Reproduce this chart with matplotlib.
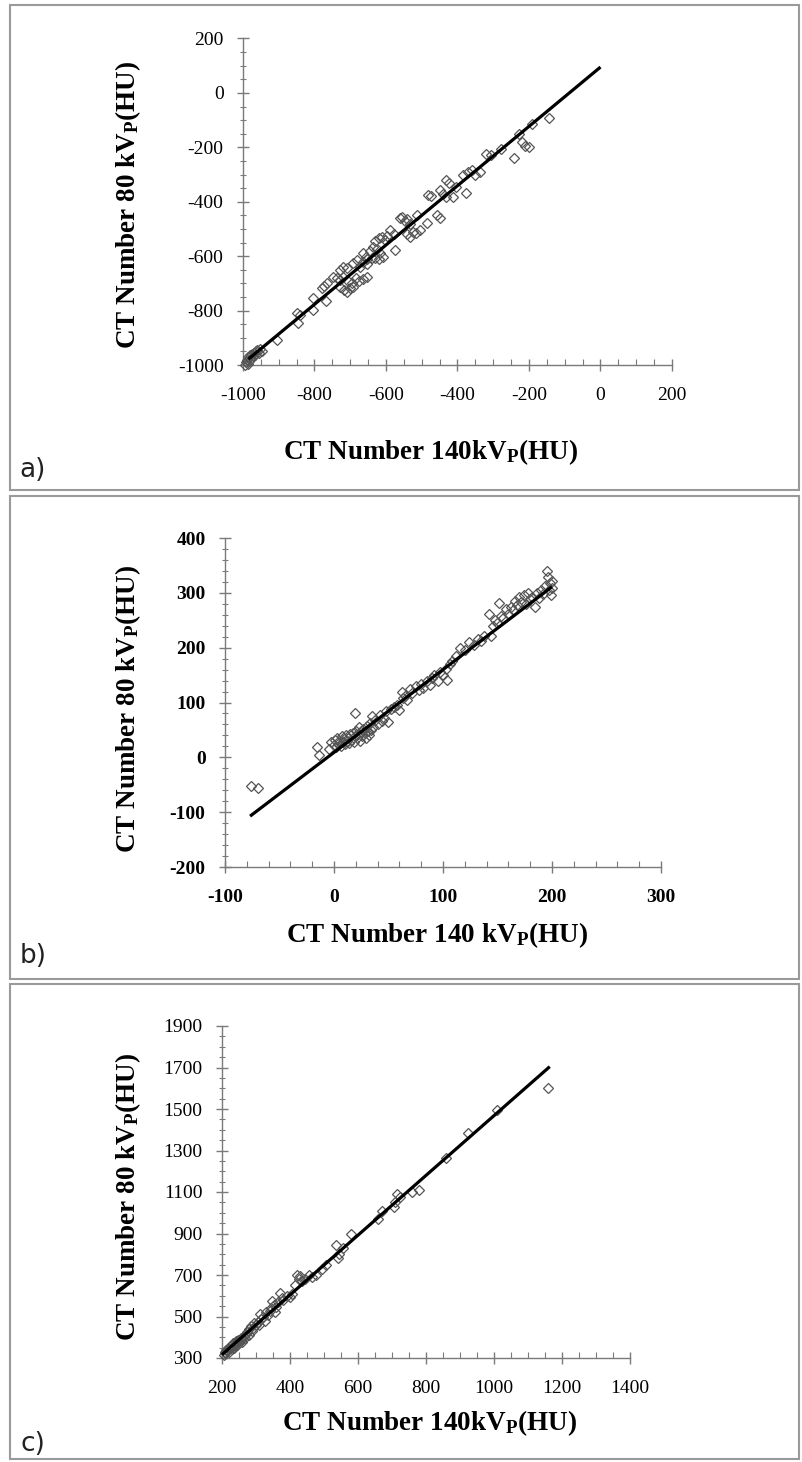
import matplotlib
matplotlib.use('Agg')
import matplotlib.pyplot as plt
from matplotlib.ticker import MultipleLocator, FixedLocator
from matplotlib.patches import Rectangle

plt.rcParams['font.family'] = ['Liberation Serif', 'DejaVu Serif']
plt.rcParams['mathtext.fontset'] = 'custom'
plt.rcParams['mathtext.rm'] = 'Liberation Serif:bold'
plt.rcParams['mathtext.it'] = 'Liberation Serif:bold'
plt.rcParams['mathtext.bf'] = 'Liberation Serif:bold'

# ---------------- data: panel a (lung-like) ----------------
a_x140 = [-995, -992, -990, -987, -985, -982, -980, -977, -975, -972, -970, -966, -963, -960, -956, -952, -948,
          -906, -850, -845, -840, -805, -803,
          -780, -773, -766, -769, -747, -738, -728, -719, -729, -720, -710,
          -729, -718, -710, -700, -692, -705, -695, -685, -675, -665, -654,
          -692, -682, -672, -663, -654, -664, -655, -646, -637, -626, -632, -620, -612, -603, -598,
          -654, -640, -630, -620, -608, -617, -575, -589, -578,
          -561, -555, -548, -540, -533, -542, -533, -524, -515, -505,
          -514, -486, -482, -475, -458, -449, -449, -440, -431, -431, -425,
          -412, -403, -375, -384, -370, -360, -350, -337,
          -321, -305, -279, -243, -229, -220, -212, -200, -193, -143]
a_y80 = [-1000, -990, -980, -995, -972, -985, -965, -978, -960, -968, -955, -962, -950, -945, -955, -940, -948,
         -908, -810, -844, -815, -798, -755,
         -718, -708, -700, -764, -675, -680, -688, -678, -651, -639, -645,
         -712, -725, -730, -718, -712, -690, -700, -680, -692, -685, -675,
         -625, -614, -639, -620, -630, -590, -602, -580, -565, -575, -545, -535, -528, -540, -525,
         -610, -608, -605, -612, -602, -590, -577, -504, -520,
         -460, -455, -470, -465, -480, -520, -528, -510, -515, -504,
         -449, -479, -375, -380, -449, -461, -357, -370, -381, -320, -330,
         -381, -345, -369, -300, -290, -283, -300, -290,
         -224, -230, -206, -240, -150, -180, -195, -200, -115, -91]
a_fit = (1.09, 95.0)          # slope, intercept
a_fit_x = [-985, 0]
a_xticks = [-1000, -800, -600, -400, -200, 0, 200]
a_yticks = [-1000, -800, -600, -400, -200, 0, 200]

# ---------------- data: panel b (soft tissue) ----------------
b_x140 = [-76, -70, -16, -14,
          -5, -3, 0, 1, 2, 3, 4, 5, 6, 7, 8, 9, 10, 11, 12, 13, 14, 15, 16, 17, 18, 19, 19, 20, 21, 22,
          23, 24, 25, 26, 27, 28, 29, 30, 31, 32, 33, 34, 35, 36, 38, 40, 42, 44, 46, 48, 50, 52, 55, 58,
          60, 62, 63, 65, 67, 70, 72, 75, 78, 80, 82, 85, 88, 90, 92, 95, 97, 100, 103, 104, 106, 108,
          112, 116, 120, 124, 128, 132, 135, 138, 142, 144, 146, 148, 150, 151, 153, 155, 158, 160, 162,
          164, 166, 168, 170, 172, 174, 176, 178, 180, 182, 184, 186, 188, 190, 192, 194, 195, 196, 197,
          198, 199, 200, 200]
b_y80 = [-53, -56, 19, 5,
         15, 28, 22, 32, 18, 35, 25, 30, 20, 38, 28, 33, 24, 40, 30, 35, 26, 42, 32, 45, 28, 80, 38, 48, 35, 42,
         55, 30, 46, 38, 52, 44, 36, 58, 48, 40, 62, 50, 75, 56, 68, 60, 78, 66, 72, 84, 64, 88, 92, 96,
         86, 120, 108, 112, 104, 125, 118, 130, 122, 134, 126, 140, 132, 145, 150, 140, 155, 150, 162, 141, 170, 176,
         185, 200, 195, 210, 205, 215, 212, 222, 262, 222, 240, 250, 245, 281, 258, 255, 270, 262, 275,
         268, 285, 278, 292, 284, 296, 280, 300, 288, 292, 275, 300, 290, 306, 298, 312, 340, 328, 305,
         318, 296, 322, 308]
b_fit = (1.51, 9.0)
b_fit_x = [-77, 200]
b_xticks = [-100, 0, 100, 200, 300]
b_yticks = [-200, -100, 0, 100, 200, 300, 400]

# ---------------- data: panel c (bone-like) ----------------
c_x140 = [205, 208, 210, 212, 215, 218, 220, 222, 225, 228, 230, 233, 235, 238, 240, 243, 245, 248, 250,
          253, 255, 258, 260, 265, 268, 270, 275, 278, 280, 285, 288, 290, 295, 300, 305, 310, 312, 315,
          320, 325, 330, 335, 340, 345, 348, 352, 355, 360, 365, 370, 375, 380, 390, 400, 405, 415, 420,
          425, 430, 435, 445, 455, 465, 475, 495, 505, 535, 540, 545, 555, 580, 660, 670, 705, 710, 715,
          725, 760, 780, 860, 925, 1010, 1160]
c_y80 = [315, 330, 322, 340, 335, 350, 328, 345, 360, 342, 355, 370, 350, 365, 380, 362, 375, 388, 370,
         385, 395, 378, 392, 405, 398, 415, 425, 410, 440, 455, 430, 445, 470, 460, 475, 458, 510, 490,
         500, 480, 520, 505, 525, 540, 575, 555, 520, 545, 570, 615, 590, 580, 600, 595, 610, 650, 700,
         680, 695, 670, 680, 700, 690, 700, 730, 750, 845, 780, 800, 830, 900, 970, 1010, 1030, 1050, 1090,
         1075, 1100, 1110, 1262, 1382, 1495, 1600]
c_fit = (1.44, 28.0)
c_fit_x = [200, 1164]
c_xticks = [200, 400, 600, 800, 1000, 1200, 1400]
c_yticks = [300, 500, 700, 900, 1100, 1300, 1500, 1700, 1900]

W, H = 803, 1462
fig = plt.figure(figsize=(W / 100, H / 100), dpi=100)
fig.patch.set_facecolor('white')

def rect(x0, y0, x1, y1):
    return [x0 / W, 1 - y1 / H, (x1 - x0) / W, (y1 - y0) / H]

# panel frames
for (y0, y1) in [(5, 490), (496, 979), (984, 1459)]:
    fig.add_artist(Rectangle((10 / W, 1 - y1 / H), (799 - 10) / W, (y1 - y0) / H,
                             transform=fig.transFigure, fill=False,
                             edgecolor='#9a9a9a', linewidth=1.5))

panels = [
    dict(x=a_x140, y=a_y80, fit=a_fit, fitx=a_fit_x, xt=a_xticks, yt=a_yticks,
         xminor=50, yminor=50, box=(243, 38.5, 672, 365), bold=False,
         xlabel='CT Number 140kV$_{\\mathrm{P}}$(HU)', xlab_pos=(431, 452),
         ylab_pos=(128, 205), letter='a)', letter_y=470),
    dict(x=b_x140, y=b_y80, fit=b_fit, fitx=b_fit_x, xt=b_xticks, yt=b_yticks,
         xminor=20, yminor=20, box=(225, 538, 661, 867), bold=True,
         xlabel='CT Number 140 kV$_{\\mathrm{P}}$(HU)', xlab_pos=(437, 935),
         ylab_pos=(128, 709), letter='b)', letter_y=956),
    dict(x=c_x140, y=c_y80, fit=c_fit, fitx=c_fit_x, xt=c_xticks, yt=c_yticks,
         xminor=50, yminor=50, box=(222, 1026, 630, 1358), bold=False,
         xlabel='CT Number 140kV$_{\\mathrm{P}}$(HU)', xlab_pos=(430, 1423),
         ylab_pos=(128, 1197), letter='c)', letter_y=1444),
]

axis_col = '#7a7a7a'
for p in panels:
    ax = fig.add_axes(rect(*p['box']))
    ax.set_xlim(p['xt'][0], p['xt'][-1])
    ax.set_ylim(p['yt'][0], p['yt'][-1])
    for s in ['top', 'right']:
        ax.spines[s].set_visible(False)
    for s in ['left', 'bottom']:
        ax.spines[s].set_color(axis_col)
        ax.spines[s].set_linewidth(1.0)
    ax.xaxis.set_major_locator(FixedLocator(p['xt']))
    ax.yaxis.set_major_locator(FixedLocator(p['yt']))
    ax.xaxis.set_minor_locator(MultipleLocator(p['xminor']))
    ax.yaxis.set_minor_locator(MultipleLocator(p['yminor']))
    w = 'bold' if p['bold'] else 'normal'
    ax.tick_params(axis='both', which='major', direction='inout', length=8, width=1.0,
                   color=axis_col, labelsize=14)
    ax.tick_params(axis='y', which='minor', direction='inout', length=5, width=0.8, color=axis_col)
    ax.tick_params(axis='x', which='minor', direction='in', length=4, width=0.8, color=axis_col)
    ax.tick_params(axis='y', which='major', pad=10)
    ax.tick_params(axis='x', which='major', pad=12)
    ax.set_xticklabels([str(v) for v in p['xt']], fontweight=w)
    ax.set_yticklabels([str(v) for v in p['yt']], fontweight=w)
    ax.patch.set_alpha(0)

    ax.plot(p['x'], p['y'], linestyle='none', marker='D', markersize=5,
            markerfacecolor='none', markeredgecolor='#555555', markeredgewidth=0.9,
            clip_on=False, zorder=3)
    m, b = p['fit']
    fx = p['fitx']
    ax.plot(fx, [m * v + b for v in fx], color='black', linewidth=2.3, zorder=4,
            solid_capstyle='butt', clip_on=False)

    fig.text(p['xlab_pos'][0] / W, 1 - p['xlab_pos'][1] / H, p['xlabel'],
             ha='center', va='center', fontsize=19.5, fontweight='bold')
    fig.text(p['ylab_pos'][0] / W, 1 - p['ylab_pos'][1] / H,
             'CT Number 80 kV$_{\\mathrm{P}}$(HU)', rotation=90,
             ha='center', va='center', fontsize=19.5, fontweight='bold')
    fig.text(33 / W, 1 - p['letter_y'] / H, p['letter'], ha='center', va='center',
             fontsize=19, family='DejaVu Sans', color='#222222')

fig.savefig('out.png', dpi=100, facecolor='white')
